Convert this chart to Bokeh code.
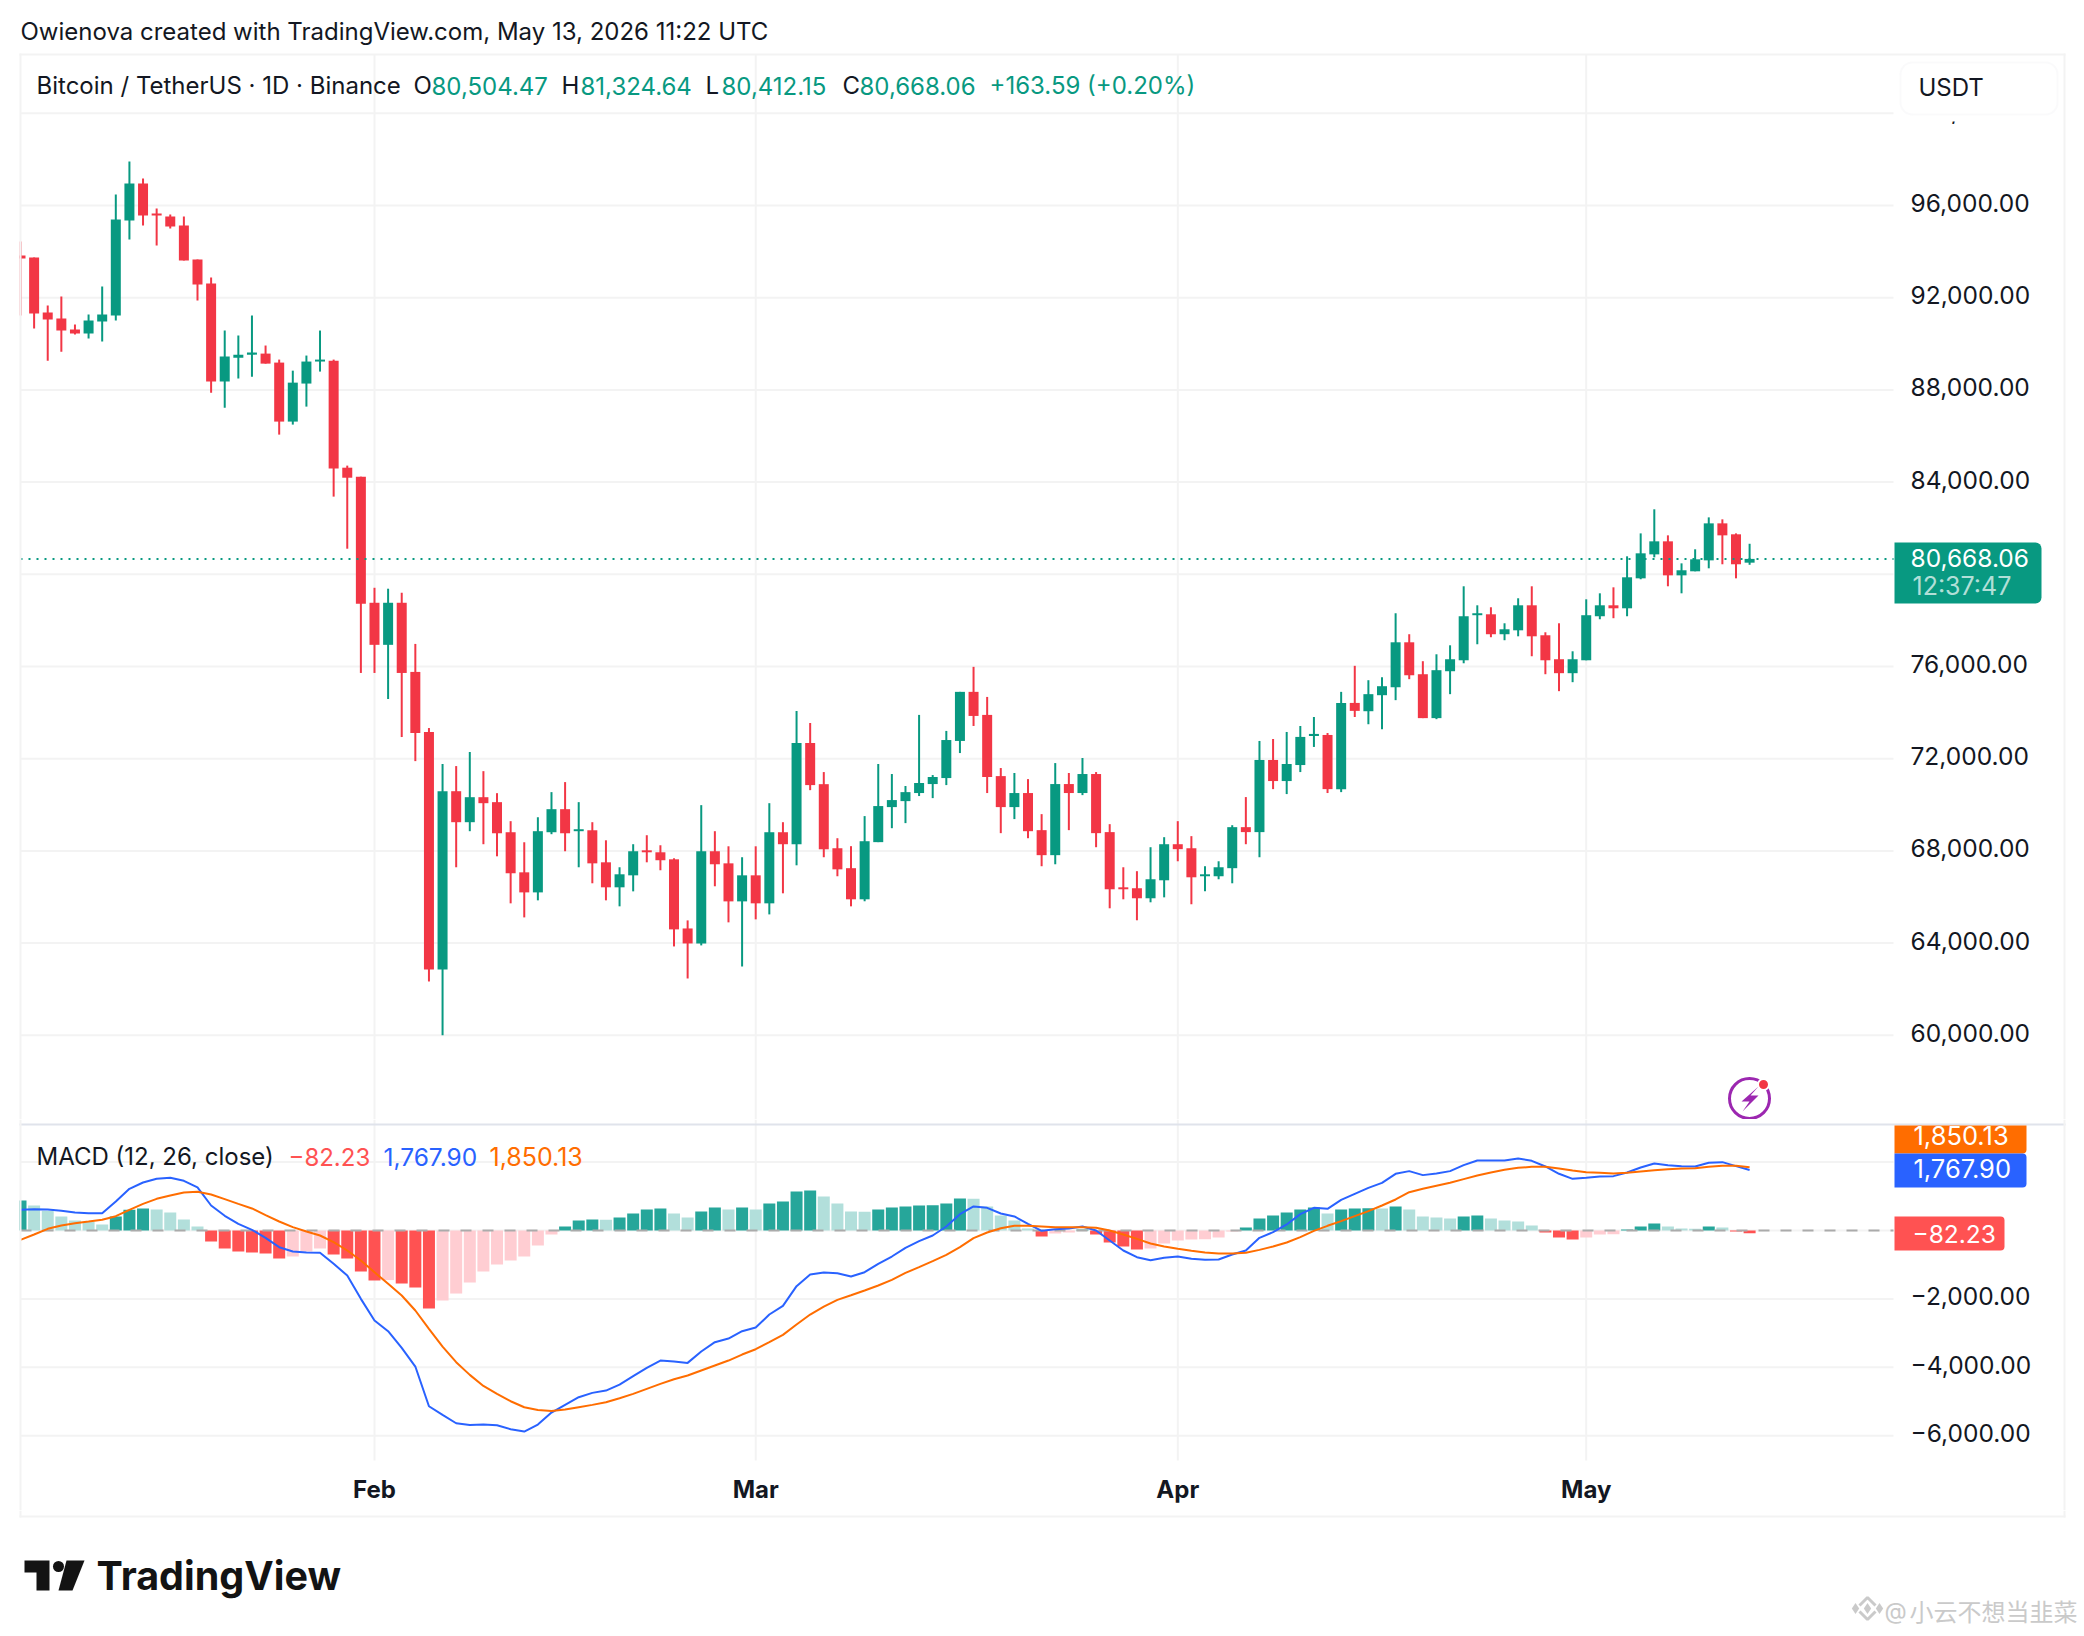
from bokeh.plotting import figure
from bokeh.layouts import column
from bokeh.models import (Range1d, FixedTicker, NumeralTickFormatter, Label,
                          BoxAnnotation, ColumnDataSource)
from bokeh.embed import file_html
from bokeh.resources import INLINE

# ---------- data (Jan 6 .. May 13, daily) ----------
OPEN = [93830, 93740, 91355, 91095, 90615, 90445, 90965, 91225, 95350, 96955,
        95655, 95520, 95130, 93655, 92615, 88360, 89400, 89530, 89575, 89185,
        86625, 88275, 89230, 89270, 84625, 84235, 78765, 76940, 78765, 75765,
        73155, 62855, 70590, 69245, 70330, 70115, 68810, 67070, 66200, 68810,
        69810, 68855, 68895, 67505, 66420, 66940, 68025, 67940, 67635, 64635,
        63985, 67985, 67460, 65810, 66940, 65725, 68810, 68290, 72680, 70895,
        68115, 67250, 65900, 68380, 69900, 70160, 70510, 70900, 71160, 72770,
        74900, 73900, 71245, 69900, 70510, 68900, 67815, 70900, 70510, 71335,
        68815, 66420, 66380, 65945, 66725, 68290, 68115, 66900, 66900, 67250,
        69030, 68815, 71945, 71030, 71725, 72985, 73030, 70680, 74420, 74060,
        74755, 75100, 77050, 75665, 73760, 75795, 76270, 78225, 78265, 77400,
        77570, 78655, 77355, 76315, 75710, 76270, 78180, 78655, 78525, 79825,
        80865, 81430, 79955, 80130, 80605, 82210, 81735, 80504.47]
HIGH = [94440, 93740, 91660, 92050, 90835, 91270, 92485, 96475, 97910, 97170,
        95870, 95610, 95520, 93655, 92875, 90575, 90355, 91225, 89925, 89315,
        88835, 89490, 90575, 89315, 84715, 84235, 79415, 79375, 79200, 76980,
        73330, 71765, 71680, 72290, 71460, 70505, 69290, 68375, 69460, 70550,
        70985, 70115, 69245, 68460, 67290, 68290, 68680, 68245, 67680, 64985,
        69985, 68855, 68200, 67725, 68200, 70070, 69245, 74070, 73550, 71420,
        68550, 68205, 69510, 71770, 71335, 70815, 73900, 71290, 73205, 74900,
        75985, 74680, 71595, 71380, 71115, 69595, 71810, 71380, 72030, 71420,
        69160, 67290, 67120, 68160, 68595, 69290, 68640, 67335, 67550, 69115,
        70335, 72770, 72855, 73160, 73420, 73810, 73115, 74900, 76030, 75405,
        75535, 78310, 77400, 76230, 76530, 76920, 79480, 78655, 78570, 77875,
        78960, 79480, 77485, 77875, 76660, 78915, 79175, 79435, 80780, 81775,
        82820, 81690, 80475, 81085, 82470, 82385, 81775, 81324.64]
LOW = [91225, 90660, 89270, 89660, 90400, 90225, 90095, 91010, 94525, 95130,
       94265, 95000, 93610, 91875, 87880, 87230, 88490, 88575, 89140, 86060,
       86495, 87275, 88795, 83370, 81110, 75720, 75720, 74590, 72940, 71895,
       62335, 60000, 67290, 68855, 68290, 67765, 65725, 65115, 65855, 68725,
       67985, 67290, 66595, 65855, 65595, 66245, 67505, 67160, 63855, 62465,
       63900, 66465, 64900, 62985, 65030, 65245, 66160, 67375, 70635, 67725,
       66900, 65595, 65815, 68380, 68985, 69205, 70380, 70290, 70855, 72245,
       73420, 70510, 68770, 69380, 68550, 67335, 67420, 68900, 70420, 68160,
       65510, 65900, 64990, 65770, 65985, 67550, 65685, 66250, 66770, 66595,
       68290, 67725, 70680, 70465, 71420, 72510, 70510, 70550, 73810, 73495,
       73280, 74540, 75450, 73760, 73715, 74800, 76140, 76965, 77270, 77140,
       77310, 76445, 75665, 74930, 75320, 76270, 78050, 78095, 78180, 79785,
       80735, 79480, 79175, 80130, 80260, 80435, 79825, 80412.15]
CLOSE = [93700, 91310, 91050, 90575, 90445, 91010, 91270, 95390, 96955, 95565,
         95565, 95090, 93610, 92570, 88360, 89445, 89530, 89620, 89140, 86625,
         88315, 89230, 89315, 84585, 84190, 78720, 76940, 78765, 75720, 73115,
         62855, 70590, 69245, 70330, 70070, 68765, 67030, 66200, 68855, 69810,
         68765, 68940, 67460, 66420, 66985, 67985, 67940, 67595, 64595, 63985,
         67985, 67420, 65810, 66940, 65725, 68810, 68290, 72680, 70855, 68070,
         67200, 65900, 68420, 69945, 70205, 70550, 70945, 71205, 72810, 74900,
         73855, 71205, 69900, 70510, 68855, 67815, 70900, 70510, 71335, 68770,
         66335, 66335, 65945, 66770, 68290, 68075, 66855, 66985, 67290, 69030,
         68815, 71945, 71030, 71770, 72945, 73075, 70680, 74420, 74075, 74800,
         75145, 77050, 75620, 73760, 75840, 76315, 78180, 78310, 77400, 77615,
         78655, 77310, 76270, 75710, 76315, 78225, 78655, 78525, 79870, 80910,
         81430, 79955, 80175, 80650, 82210, 81690, 80435, 80668.06]

MACD_LINE = [605, 624, 614, 575, 527, 507, 507, 848, 1219, 1404,
             1511, 1541, 1453, 1258, 731, 429, 195, 20, -215, -488,
             -614, -644, -653, -975, -1316, -1999, -2633, -2945, -3432, -3978,
             -5138, -5392, -5636, -5684, -5675, -5694, -5811, -5879, -5675, -5324,
             -5099, -4875, -4748, -4680, -4505, -4261, -4017, -3803, -3832, -3871,
             -3539, -3266, -3159, -2945, -2837, -2457, -2204, -1628, -1287, -1229,
             -1248, -1346, -1219, -975, -761, -507, -312, -146, 117, 478,
             702, 663, 497, 410, 195, -10, 39, 59, 117, 0,
             -293, -585, -780, -868, -800, -761, -829, -858, -848, -702,
             -585, -215, -49, 176, 478, 663, 634, 897, 1073, 1248,
             1394, 1658, 1736, 1619, 1667, 1736, 1911, 2048, 2048, 2048,
             2106, 2038, 1872, 1658, 1511, 1541, 1580, 1589, 1697, 1843,
             1960, 1911, 1882, 1872, 1979, 1999, 1882, 1767.90]
SIGNAL_LINE = [-273, -117, 49, 146, 215, 263, 312, 419, 605, 780,
               926, 1024, 1112, 1131, 1053, 917, 780, 644, 449, 263,
               98, -29, -146, -341, -585, -878, -1219, -1560, -1901, -2340,
               -2876, -3393, -3851, -4222, -4544, -4778, -4992, -5168, -5246, -5275,
               -5236, -5168, -5099, -5021, -4904, -4778, -4631, -4485, -4349, -4241,
               -4095, -3949, -3803, -3627, -3471, -3266, -3052, -2750, -2457, -2223,
               -2028, -1892, -1755, -1609, -1443, -1238, -1073, -897, -712, -488,
               -224, -59, 68, 137, 137, 117, 98, 98, 98, 78,
               0, -117, -244, -380, -468, -536, -595, -644, -673, -673,
               -653, -566, -468, -351, -195, -10, 137, 273, 419, 566,
               731, 907, 1121, 1219, 1307, 1394, 1502, 1609, 1697, 1775,
               1833, 1862, 1862, 1814, 1755, 1706, 1687, 1667, 1687, 1726,
               1765, 1794, 1814, 1823, 1862, 1892, 1892, 1850.13]
HIST = [877, 731, 575, 410, 292, 253, 175, 410, 604, 643,
        614, 526, 322, 117, -322, -526, -614, -643, -673, -819,
        -760, -614, -526, -702, -819, -1199, -1462, -1450, -1550, -1667,
        -2281, -2047, -1843, -1521, -1199, -994, -877, -760, -439, -117,
        117, 292, 322, 315, 380, 497, 614, 643, 497, 380,
        556, 673, 614, 673, 614, 790, 848, 1141, 1170, 994,
        790, 556, 550, 614, 673, 702, 731, 735, 790, 936,
        930, 702, 439, 292, 58, -175, -88, -58, 29, -117,
        -351, -468, -556, -526, -380, -292, -263, -258, -205, -29,
        88, 351, 439, 526, 614, 673, 497, 614, 643, 650,
        643, 702, 614, 410, 380, 351, 410, 439, 351, 292,
        263, 146, -58, -205, -263, -205, -117, -112, 29, 117,
        205, 117, 58, 52, 117, 88, -29, -82.23]

PRICE_TICKS = [60000, 64000, 68000, 72000, 76000, 80000, 84000, 88000, 92000, 96000, 100000]
MACD_TICKS = [-6000, -4000, -2000, 0, 2000]
MACD_TICK_LABELS = {-6000: "\u22126,000.00", -4000: "\u22124,000.00", -2000: "\u22122,000.00", 0: "", 2000: ""}
MONTH_INDEX = [26, 54, 85, 115]
MONTH_LABELS = ["Feb", "Mar", "Apr", "May"]
LAST_PRICE = 80668.06

# ---------- geometry and colours ----------
UP, DOWN = "#089981", "#F23645"
H_UP, H_UP_L, H_DN, H_DN_L = "#26A69A", "#B2DFDB", "#FF5252", "#FFCDD2"
BLUE, ORANGE = "#2962FF", "#FF6D00"
GRID = "#F3F3F3"
INK = "#131722"
FONT = "Inter"
WIDTH = 2084
LEFT, RIGHT = 20, 1893
P_TOP, M_TOP, F_TOP = 0, 1119, 1510
LABEL_LIFT = 2.5
X0, DX = 20.0, 13.615
def xd(px): return (px - X0) / DX
def yp(py): return 96000 - (py - 205) / 0.02305
def ym(py): return (1230 - py) / 0.0342

n = len(CLOSE)
idx = list(range(n))
assert all(len(a) == n for a in (OPEN, HIGH, LOW, MACD_LINE, SIGNAL_LINE, HIST))

def style_fig(p):
    p.outline_line_color = None
    p.background_fill_color = "white"
    p.border_fill_color = "white"
    p.grid.visible = False

def label(p, top, px, py, text, color=INK, size="24px", style="normal", font=FONT, alpha=1.0):
    p.add_layout(Label(x=px, y=py - top, x_units="canvas", y_units="canvas", text=text,
                       text_font=font, text_font_size=size,
                       text_font_style=style, text_color=color, text_alpha=alpha,
                       text_baseline="middle", text_align="left"))

def box(p, top, l, r, t, b, fill, line=None, radius=0, lw=0):
    p.add_layout(BoxAnnotation(left=l, right=r, top=t - top, bottom=b - top,
                               left_units="canvas", right_units="canvas",
                               top_units="canvas", bottom_units="canvas",
                               fill_color=fill, fill_alpha=1, line_color=line, line_width=lw,
                               border_radius=radius))

def style_axis(ax):
    ax.axis_line_color = None
    ax.major_tick_line_color = None
    ax.minor_tick_line_color = None
    ax.major_label_text_font = FONT
    ax.major_label_text_color = INK

def grid_lines(p, ys, y_top, y_bot):
    k = len(ys)
    p.segment([xd(LEFT)] * k, ys, [xd(RIGHT)] * k, ys, line_color=GRID, line_width=2)
    m = len(MONTH_INDEX)
    p.segment(MONTH_INDEX, [y_top] * m, MONTH_INDEX, [y_bot] * m, line_color=GRID, line_width=2)

# ---------- price pane ----------
price = figure(width=WIDTH, height=M_TOP - P_TOP, output_backend="svg", toolbar_location=None,
               x_range=Range1d(xd(0), xd(WIDTH)), y_range=Range1d(yp(M_TOP), yp(P_TOP)),
               x_axis_location=None, y_axis_location="right", min_border=0)
style_fig(price)
price.extra_y_ranges["labels"] = Range1d(yp(M_TOP + LABEL_LIFT), yp(P_TOP + LABEL_LIFT))
pa = price.yaxis[0]
pa.y_range_name = "labels"
pa.fixed_location = xd(RIGHT)
pa.ticker = FixedTicker(ticks=PRICE_TICKS)
pa.formatter = NumeralTickFormatter(format="0,0.00")
style_axis(pa)
pa.major_label_text_font_size = "24.5px"
pa.major_label_standoff = 11

grid_lines(price, PRICE_TICKS, yp(54), yp(M_TOP))

src = ColumnDataSource(dict(
    x=idx, h=HIGH, l=LOW,
    top=[max(o, c) for o, c in zip(OPEN, CLOSE)],
    bot=[min(o, c) for o, c in zip(OPEN, CLOSE)],
    col=[UP if c >= o else DOWN for o, c in zip(OPEN, CLOSE)]))
price.segment("x", "h", "x", "l", source=src, line_color="col", line_width=2)
price.vbar("x", width=10 / DX, top="top", bottom="bot", source=src, fill_color="col", line_color=None)
price.segment([xd(LEFT)], [LAST_PRICE], [xd(RIGHT)], [LAST_PRICE], line_color=UP, line_width=2, line_dash="2 6")

# frame lines; what lies left of the frame is covered
box(price, P_TOP, 0, 19, 54, M_TOP, "white")
box(price, P_TOP, 19, 21, 53, M_TOP, GRID)
box(price, P_TOP, 2063, 2065, 53, M_TOP, GRID)
box(price, P_TOP, 19, 2065, 53, 55, GRID)

# titles
label(price, P_TOP, 20, 31, "Owienova created with TradingView.com, May 13, 2026 11:22 UTC")
label(price, P_TOP, 36, 85, "Bitcoin / TetherUS \u00b7 1D \u00b7 Binance")
for px, t, c in [(413, "O", INK), (431, "80,504.47", UP), (561, "H", INK), (580, "81,324.64", UP),
                 (705, "L", INK), (721, "80,412.15", UP), (842, "C", INK), (859, "80,668.06", UP),
                 (989, "+163.59 (+0.20%)", UP)]:
    label(price, P_TOP, px, 85, t, c)

# currency button
box(price, P_TOP, 1894, 2062, 56, 121, "white")
box(price, P_TOP, 1900, 2057, 62, 114, "white", "#F0F0F3", 12, 2)
label(price, P_TOP, 1918, 87, "USDT")

# last price tag
box(price, P_TOP, 1894, 2041, 542, 603, UP, None, (0, 6, 6, 0))
label(price, P_TOP, 1910, 557, "80,668.06", "white", "24.5px")
label(price, P_TOP, 1912, 585, "12:37:47", "white", "25px", alpha=0.7)

# lightning icon
price.scatter([xd(1749)], [yp(1098)], marker="circle", size=40, fill_color=None,
              line_color="#9C27B0", line_width=3)
price.patch([xd(v) for v in (1758, 1741, 1749, 1742, 1758, 1750)],
            [yp(v) for v in (1086, 1101, 1101, 1111, 1095, 1095)],
            fill_color="#9C27B0", line_color=None)
price.scatter([xd(1763)], [yp(1084)], marker="circle", size=11, fill_color="#F23645",
              line_color="white", line_width=2)

# ---------- MACD pane ----------
macd = figure(width=WIDTH, height=F_TOP - M_TOP, output_backend="svg", toolbar_location=None,
              x_range=Range1d(xd(0), xd(WIDTH)), y_range=Range1d(ym(F_TOP), ym(M_TOP)),
              y_axis_location="right", min_border=0)
style_fig(macd)
macd.extra_y_ranges["labels"] = Range1d(ym(F_TOP + LABEL_LIFT), ym(M_TOP + LABEL_LIFT))
ma = macd.yaxis[0]
ma.y_range_name = "labels"
ma.fixed_location = xd(RIGHT)
ma.ticker = FixedTicker(ticks=MACD_TICKS)
ma.major_label_overrides = MACD_TICK_LABELS
style_axis(ma)
ma.major_label_text_font_size = "24.5px"
ma.major_label_standoff = 11
ta = macd.xaxis[0]
ta.fixed_location = ym(1460)
ta.ticker = FixedTicker(ticks=MONTH_INDEX)
ta.major_label_overrides = dict(zip(MONTH_INDEX, MONTH_LABELS))
style_axis(ta)
ta.major_label_text_font_size = "24px"
ta.major_label_text_font_style = "bold"
ta.major_label_standoff = 8

grid_lines(macd, MACD_TICKS, ym(M_TOP), ym(1460))

def hist_color(i):
    v = HIST[i]
    prev = HIST[i - 1] if i else v - 1
    if v >= 0:
        return H_UP if v >= prev else H_UP_L
    return H_DN if v <= prev else H_DN_L

hsrc = ColumnDataSource(dict(x=idx, v=HIST, col=[hist_color(i) for i in idx]))
macd.vbar("x", width=12 / DX, top="v", bottom=0, source=hsrc, fill_color="col", line_color=None)
macd.segment([xd(LEFT)], [0], [xd(RIGHT)], [0], line_color="#ABABAB", line_width=2, line_dash="11 11")
macd.line(idx, MACD_LINE, line_color=BLUE, line_width=2)
macd.line(idx, SIGNAL_LINE, line_color=ORANGE, line_width=2)

box(macd, M_TOP, 0, 19, M_TOP, F_TOP, "white")
box(macd, M_TOP, 19, 2065, 1123, 1125, "#E0E3EB")
box(macd, M_TOP, 19, 21, M_TOP, F_TOP, GRID)
box(macd, M_TOP, 2063, 2065, M_TOP, F_TOP, GRID)

label(macd, M_TOP, 36, 1156, "MACD (12, 26, close)")
label(macd, M_TOP, 288, 1156, "\u221282.23", H_DN)
label(macd, M_TOP, 383, 1156, "1,767.90", BLUE, "24.5px")
label(macd, M_TOP, 489, 1156, "1,850.13", ORANGE, "25px")

box(macd, M_TOP, 1894, 2026, 1125, 1153, ORANGE, None, (0, 0, 4, 0))
box(macd, M_TOP, 1894, 2026, 1153, 1187, BLUE, None, (0, 4, 4, 0))
box(macd, M_TOP, 1894, 2004, 1216, 1250, H_DN, None, (0, 4, 4, 0))
label(macd, M_TOP, 1913, 1135, "1,850.13", "white", "25.5px")
label(macd, M_TOP, 1913, 1168, "1,767.90", "white", "25.5px")
label(macd, M_TOP, 1912, 1233, "\u221282.23", "white", "24.5px")

# ---------- footer ----------
foot = figure(width=WIDTH, height=1636 - F_TOP, output_backend="svg", toolbar_location=None,
              x_range=Range1d(0, WIDTH), y_range=Range1d(1636, F_TOP),
              x_axis_location=None, y_axis_location=None, min_border=0)
style_fig(foot)
box(foot, F_TOP, 19, 21, F_TOP, 1517, GRID)
box(foot, F_TOP, 2063, 2065, F_TOP, 1517, GRID)
box(foot, F_TOP, 19, 2065, 1515, 1517, GRID)
LOGO = "#131313"
foot.patch([24, 49, 49, 36, 36, 24], [1560, 1560, 1590, 1590, 1572, 1572], fill_color=LOGO, line_color=None)
foot.scatter([58], [1566], marker="circle", size=11, fill_color=LOGO, line_color=None)
foot.patch([66, 84, 72, 58], [1560, 1560, 1590, 1590], fill_color=LOGO, line_color=None)
label(foot, F_TOP, 96, 1575, "TradingView", LOGO, "39.5px", "bold")
WM = "#CACACA"
foot.multi_line([[1859, 1867, 1875], [1859, 1867, 1875]], [[1605, 1597, 1605], [1611, 1619, 1611]],
                line_color=WM, line_width=3)
foot.scatter([1855, 1867, 1879], [1608, 1608, 1608], marker="diamond", size=11, fill_color=WM, line_color=None)
label(foot, F_TOP, 1884, 1610, "@", WM, "23px")
label(foot, F_TOP, 1909, 1610, "\u5c0f\u4e91\u4e0d\u60f3\u5f53\u97ed\u83dc", WM, "24px", font="Noto Sans CJK SC")

page = column(price, macd, foot, spacing=0)
open("out.html", "w").write(file_html(page, INLINE))
